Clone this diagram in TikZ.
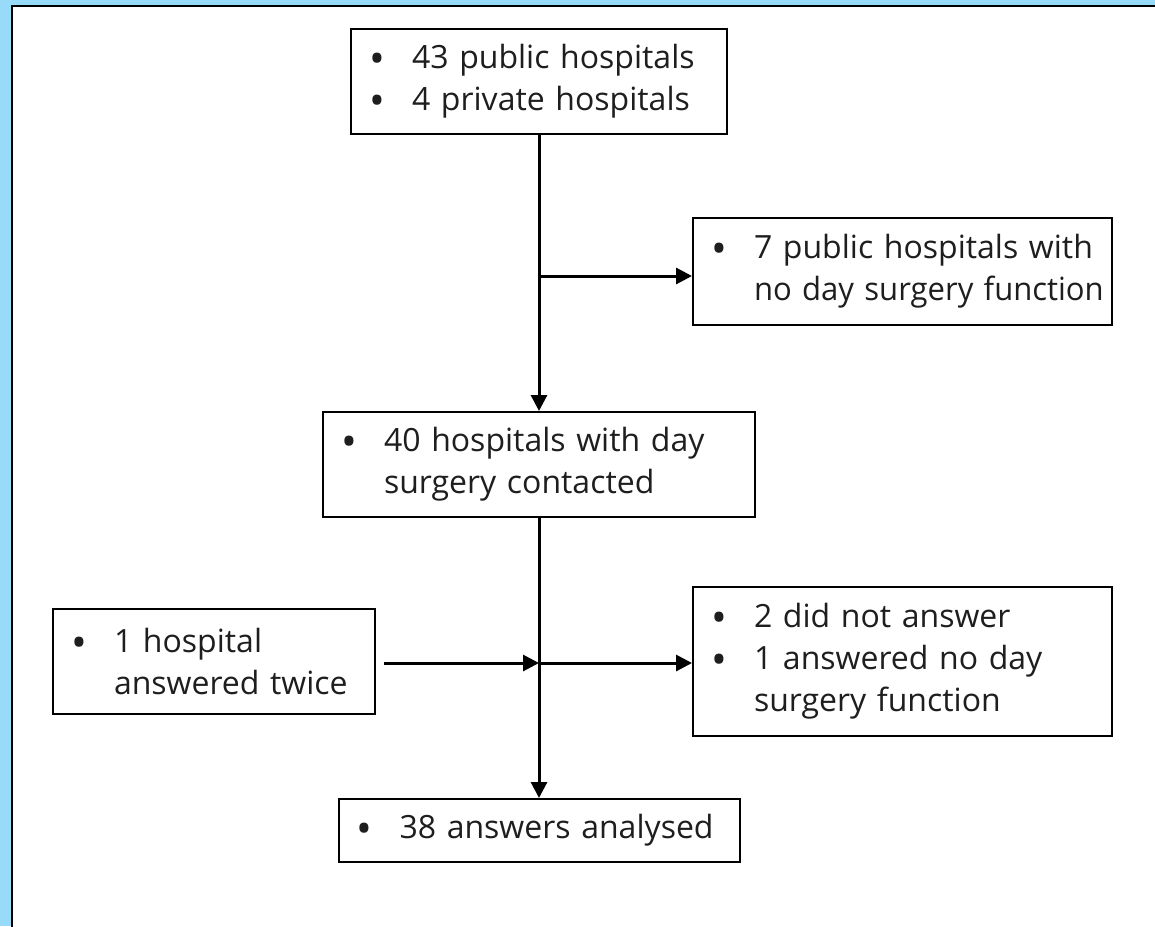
\documentclass[tikz,border=0pt]{standalone}
\usepackage{fontspec}
\setmainfont{Open Sans}
\usetikzlibrary{arrows.meta}
\definecolor{framebg}{RGB}{152,219,249}
\definecolor{txt}{RGB}{30,30,30}
\newcommand{\bl}{\hspace*{18pt}\makebox[43pt][l]{\raisebox{-5pt}{\fontsize{42}{42}\selectfont\textbullet}}}
\newcommand{\cont}{\hspace*{61pt}}
\begin{document}
\begin{tikzpicture}[x=1pt,y=-1pt,
  box/.style={draw=black, line width=2pt, fill=white, rectangle, inner sep=0pt,
    align=left, text=txt, font=\fontsize{32}{42}\selectfont},
  conn/.style={line width=3pt, -{Triangle[length=16pt,width=16pt]}}]
\useasboundingbox (0,0) rectangle (1155,926);
\fill[framebg] (0,0) rectangle (1155,926);
\draw[line width=2pt, fill=white] (12,6) rectangle (1170,945);

\node[box, minimum width=376pt, minimum height=105pt, text width=376pt] (n1) at (539,81.5)
  {\bl\mbox{43 public hospitals}\\\bl\mbox{4 private hospitals}};
\node[box, minimum width=419pt, minimum height=107pt, text width=419pt] (n2) at (902.5,271.5)
  {\bl\mbox{7 public hospitals with}\\\cont\scalebox{0.97}[1]{no day surgery function}};
\node[box, minimum width=432pt, minimum height=105pt, text width=432pt] (n3) at (539,464.5)
  {\bl\mbox{40 hospitals with day}\\\cont\mbox{surgery contacted}};
\node[box, minimum width=322pt, minimum height=105pt, text width=322pt] (n4) at (214,661.5)
  {\bl\mbox{1 hospital}\\\cont\mbox{answered twice}};
\node[box, minimum width=419pt, minimum height=149pt, text width=419pt] (n5) at (902.5,661.5)
  {\bl\mbox{2 did not answer}\\\bl\mbox{1 answered no day}\\\cont\mbox{surgery function}};
\node[box, minimum width=401pt, minimum height=63pt, text width=401pt] (n6) at (539,830.5)
  {\bl\mbox{38 answers analysed}};

\coordinate (j1) at (539,276);
\coordinate (j2) at (539,663);
\draw[conn] (n1.south) -- (n3.north);
\draw[conn] (j1) -- (j1 -| n2.west);
\draw[conn] (n3.south) -- (n6.north);
\draw[conn, shorten <=8pt] (n4.east |- j2) -- (j2);
\draw[conn] (j2) -- (j2 -| n5.west);
\end{tikzpicture}
\end{document}
